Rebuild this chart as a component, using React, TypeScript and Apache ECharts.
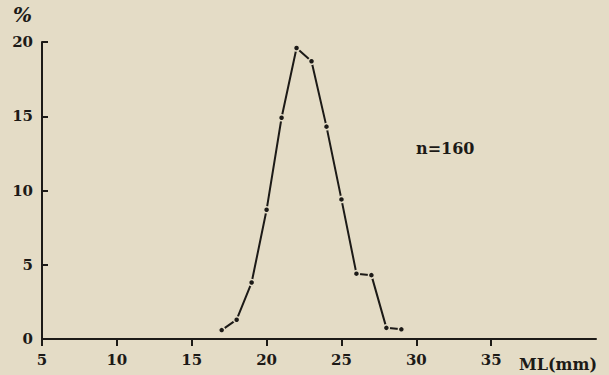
import React, { useEffect, useRef } from "react";
import * as echarts from "echarts";

const LENGTHS = [17, 18, 19, 20, 21, 22, 23, 24, 25, 26, 27, 28, 29];
const PERCENT = [0.6, 1.3, 3.8, 8.7, 14.9, 19.6, 18.7, 14.3, 9.4, 4.4, 4.3, 0.75, 0.65];
const X_TICKS = [5, 10, 15, 20, 25, 30, 35];
const Y_MIN = 0;
const Y_MAX = 20;
const Y_STEP = 5;
const X_MIN = 5;
const X_MAX = 42;
const X_TITLE = "ML(mm)";
const Y_TITLE = "%";
const NOTE = "n=160";

const BG = "#e4dcc6";
const INK = "#1c1a17";
const FONT = "DejaVu Serif";

export default function App() {
  const ref = useRef<HTMLDivElement>(null);
  useEffect(() => {
    if (!ref.current) return;
    const chart = echarts.init(ref.current, undefined, { renderer: "svg" });
    const data = LENGTHS.map((x, i) => [x, PERCENT[i]]);
    chart.setOption({
      animation: false,
      backgroundColor: BG,
      grid: { left: 42, right: 13, top: 42, bottom: 36, containLabel: false },
      xAxis: {
        type: "value",
        min: X_MIN,
        max: X_MAX,
        interval: 5,
        axisLine: { show: true, lineStyle: { color: INK, width: 2 } },
        axisTick: { show: true, customValues: X_TICKS, length: 7, lineStyle: { color: INK, width: 2 } },
        axisLabel: {
          customValues: X_TICKS,
          margin: 13,
          color: INK,
          fontFamily: FONT,
          fontSize: 15,
          fontWeight: "bold",
        },
        splitLine: { show: false },
      },
      yAxis: {
        type: "value",
        min: Y_MIN,
        max: Y_MAX,
        interval: Y_STEP,
        axisLine: { show: true, lineStyle: { color: INK, width: 2 } },
        axisTick: { show: true, inside: true, length: 6, lineStyle: { color: INK, width: 2 } },
        axisLabel: {
          margin: 9,
          color: INK,
          fontFamily: FONT,
          fontSize: 15,
          fontWeight: "bold",
        },
        splitLine: { show: false },
      },
      graphic: [
        {
          type: "text",
          left: 13,
          top: 5,
          style: { text: Y_TITLE, fill: INK, font: `italic bold 20px "${FONT}"` },
        },
        {
          type: "text",
          left: 416,
          top: 140,
          style: { text: NOTE, fill: INK, font: `bold 16px "${FONT}"` },
        },
        {
          type: "text",
          right: 12,
          top: 356,
          style: { text: X_TITLE, fill: INK, font: `bold 16px "${FONT}"` },
        },
      ],
      series: [
        {
          type: "line",
          data,
          symbol: "circle",
          symbolSize: 6,
          itemStyle: { color: INK, borderColor: BG, borderWidth: 1.5 },
          lineStyle: { color: INK, width: 2 },
        },
      ],
    });
    return () => chart.dispose();
  }, []);
  return (
    <div
      ref={ref}
      style={{ position: "fixed", left: 0, top: 0, width: 609, height: 375 }}
    />
  );
}
